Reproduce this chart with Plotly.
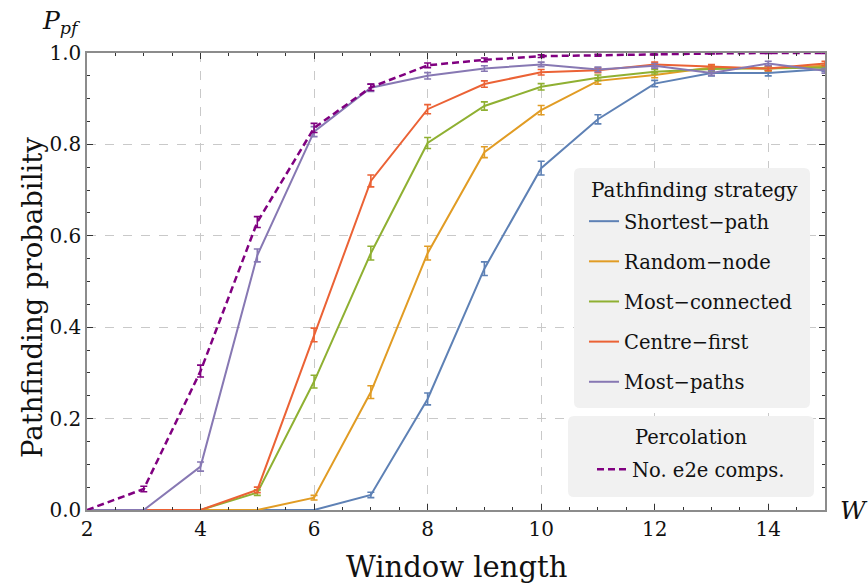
import plotly.graph_objects as go

# Window lengths
W = [2, 3, 4, 5, 6, 7, 8, 9, 10, 11, 12, 13, 14, 15]

# Pathfinding probability per strategy
shortest_path = [0, 0, 0, 0, 0, 0.033, 0.243, 0.528, 0.748, 0.855, 0.933, 0.956, 0.956, 0.965]
random_node = [0, 0, 0, 0, 0.027, 0.258, 0.562, 0.783, 0.875, 0.939, 0.952, 0.968, 0.966, 0.972]
most_connected = [0, 0, 0, 0.038, 0.281, 0.562, 0.803, 0.884, 0.926, 0.946, 0.959, 0.965, 0.966, 0.968]
centre_first = [0, 0, 0, 0.044, 0.383, 0.720, 0.877, 0.932, 0.958, 0.962, 0.975, 0.970, 0.966, 0.977]
most_paths = [0, 0, 0.095, 0.557, 0.828, 0.924, 0.950, 0.966, 0.975, 0.964, 0.972, 0.956, 0.977, 0.961]
percolation = [0, 0.046, 0.304, 0.630, 0.836, 0.925, 0.973, 0.985, 0.993, 0.995, 0.998, 0.999, 1.0, 1.0]

# Standard errors
err_shortest = [0, 0, 0, 0, 0, 0.006, 0.013, 0.015, 0.015, 0.010, 0.007, 0.006, 0.006, 0.005]
err_random = [0, 0, 0, 0, 0.005, 0.014, 0.015, 0.012, 0.010, 0.007, 0.006, 0.005, 0.005, 0.005]
err_connected = [0, 0, 0, 0.006, 0.014, 0.015, 0.012, 0.009, 0.007, 0.006, 0.005, 0.005, 0.005, 0.005]
err_centre = [0, 0, 0, 0.006, 0.015, 0.013, 0.010, 0.007, 0.006, 0.005, 0.005, 0.005, 0.005, 0.005]
err_paths = [0, 0, 0.010, 0.014, 0.011, 0.008, 0.007, 0.006, 0.005, 0.005, 0.005, 0.005, 0.005, 0.005]
err_perc = [0, 0.006, 0.013, 0.012, 0.010, 0.007, 0.005, 0.004, 0.003, 0.002, 0.002, 0.001, 0.001, 0.001]

strategy_names = ["Shortest\u2212path", "Random\u2212node", "Most\u2212connected",
                  "Centre\u2212first", "Most\u2212paths"]
strategy_values = [shortest_path, random_node, most_connected, centre_first, most_paths]
strategy_errors = [err_shortest, err_random, err_connected, err_centre, err_paths]
strategy_colors = ["#5E81B5", "#E19C24", "#8FB032", "#EB6235", "#8778B3"]

SERIF = "DejaVu Serif"
INK = "#111111"

fig = go.Figure()

for i, (name, vals, errs, col) in enumerate(zip(strategy_names, strategy_values,
                                                 strategy_errors, strategy_colors)):
    fig.add_trace(go.Scatter(
        x=W, y=vals, name=name, mode="lines",
        line=dict(color=col, width=2),
        error_y=dict(type="data", array=errs, color=col, thickness=1.6, width=3.5),
        legendgroup=f"g{i}", legend="legend", cliponaxis=False,
    ))

fig.add_trace(go.Scatter(
    x=W, y=percolation, name="No. e2e comps.", mode="lines",
    line=dict(color="#800080", width=2.5, dash="7px,4px"),
    error_y=dict(type="data", array=err_perc, color="#800080", thickness=1.6, width=3.5),
    legend="legend2", cliponaxis=False,
))

# Plot area in pixels: left 87, right 825, top 53, bottom 510
L, R, T, B = 87, 825, 53, 510
PW, PH = R - L, B - T


def px_x(p):
    return (p - L) / PW


def px_y(p):
    return (B - p) / PH


def rounded_box(x0, y0, x1, y1, r=6):
    # rounded rectangle in paper coordinates from pixel corners
    rx, ry = r / PW, r / PH
    a0, a1 = px_x(x0), px_x(x1)
    b0, b1 = px_y(y1), px_y(y0)
    return (f"M {a0 + rx} {b0} L {a1 - rx} {b0} Q {a1} {b0} {a1} {b0 + ry} "
            f"L {a1} {b1 - ry} Q {a1} {b1} {a1 - rx} {b1} L {a0 + rx} {b1} "
            f"Q {a0} {b1} {a0} {b1 - ry} L {a0} {b0 + ry} Q {a0} {b0} {a0 + rx} {b0} Z")


shapes = [
    dict(type="path", xref="paper", yref="paper", path=rounded_box(574, 168, 810, 408),
         fillcolor="#f1f1f1", line=dict(width=0), layer="above"),
    dict(type="path", xref="paper", yref="paper", path=rounded_box(568, 416, 814, 497),
         fillcolor="#f1f1f1", line=dict(width=0), layer="above"),
]

axis_common = dict(
    showline=True, linecolor="#8c8c8c", linewidth=1.5, mirror="allticks",
    ticks="inside", ticklen=6, tickwidth=1, tickcolor="#333333",
    showgrid=True, gridcolor="#c9c9c9", griddash="dash", gridwidth=1,
    zeroline=False,
    tickfont=dict(family=SERIF, size=20, color=INK),
)

fig.update_xaxes(
    range=[2, 15], tickvals=[2, 4, 6, 8, 10, 12, 14],
    minor=dict(ticks="inside", dtick=0.5, tick0=2, ticklen=3.5, tickcolor="#333333", showgrid=False),
    **axis_common,
)
fig.update_yaxes(
    range=[0, 1.0], tickvals=[0, 0.2, 0.4, 0.6, 0.8, 1.0], tickformat=".1f",
    minor=dict(ticks="inside", dtick=0.05, tick0=0, ticklen=3.5, tickcolor="#333333", showgrid=False),
    **axis_common,
)

annotations = [
    dict(text="Window length", xref="paper", yref="paper", x=0.5, y=px_y(567),
         xanchor="center", yanchor="middle", showarrow=False,
         font=dict(family=SERIF, size=29, color=INK)),
    dict(text="Pathfinding probability", xref="paper", yref="paper", x=px_x(32), y=px_y(298),
         xanchor="center", yanchor="middle", showarrow=False, textangle=-90,
         font=dict(family=SERIF, size=27.5, color=INK)),
    dict(text="<i>P</i><sub><i>pf</i></sub>", xref="paper", yref="paper", x=px_x(40), y=px_y(22),
         xanchor="left", yanchor="middle", showarrow=False,
         font=dict(family=SERIF, size=25, color=INK)),
    dict(text="<i>W</i>", xref="paper", yref="paper", x=px_x(838), y=px_y(510),
         xanchor="left", yanchor="middle", showarrow=False,
         font=dict(family=SERIF, size=25, color=INK)),
    dict(text="Pathfinding strategy", xref="paper", yref="paper", x=px_x(589), y=px_y(190),
         xanchor="left", yanchor="middle", showarrow=False,
         font=dict(family=SERIF, size=20, color=INK)),
    dict(text="Percolation", xref="paper", yref="paper", x=px_x(691), y=px_y(438),
         xanchor="center", yanchor="middle", showarrow=False,
         font=dict(family=SERIF, size=19.5, color=INK)),
]

fig.update_layout(
    width=868, height=587,
    margin=dict(l=L, r=868 - R, t=T, b=587 - B),
    paper_bgcolor="white", plot_bgcolor="white",
    font=dict(family=SERIF, color=INK),
    shapes=shapes, annotations=annotations,
    legend=dict(
        x=px_x(584), y=px_y(202), xanchor="left", yanchor="top",
        bgcolor="rgba(0,0,0,0)", borderwidth=0,
        font=dict(family=SERIF, size=19.5, color=INK),
        tracegroupgap=11.8, itemwidth=30,
    ),
    legend2=dict(
        x=px_x(592), y=px_y(450), xanchor="left", yanchor="top",
        bgcolor="rgba(0,0,0,0)", borderwidth=0,
        font=dict(family=SERIF, size=19.5, color=INK),
        itemwidth=30,
    ),
)

fig.write_html("out.html")
